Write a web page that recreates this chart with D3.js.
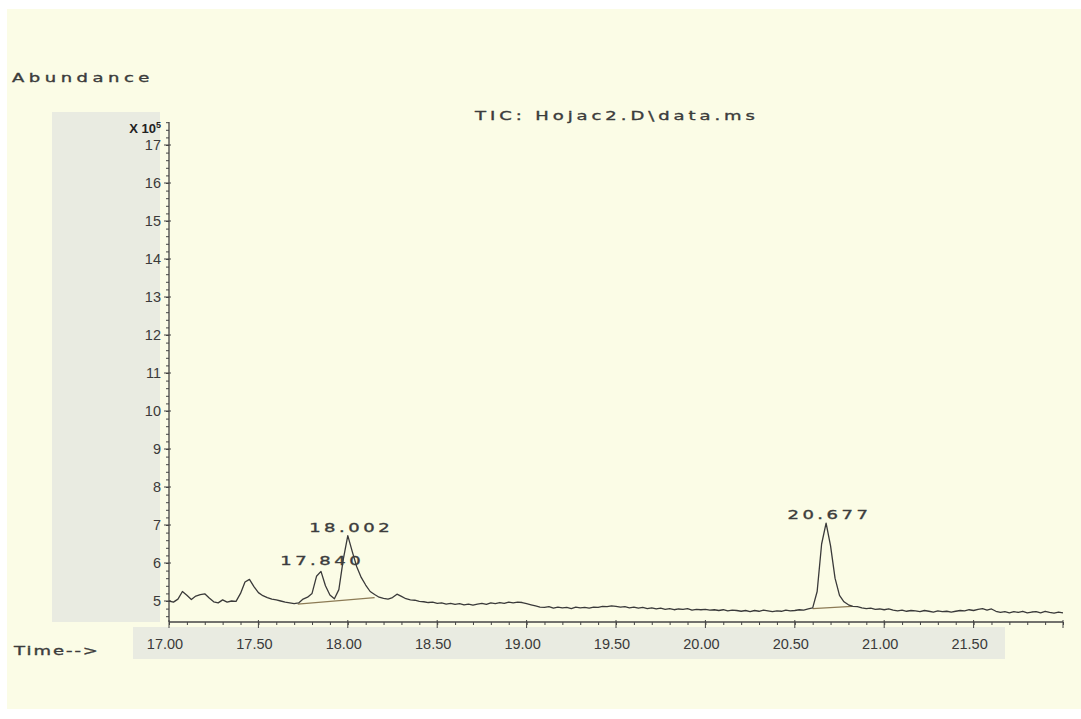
<!DOCTYPE html>
<html>
<head>
<meta charset="utf-8">
<script src="https://cdn.jsdelivr.net/npm/d3@7"></script>
<style>
  body { margin: 0; background: #fff; }
  svg { display: block; }
</style>
</head>
<body>
<svg id="chart" width="1081" height="719"></svg>
<script>
// scan grid (min) and TIC abundance in units of 10^5
var scanStart = 17.0, scanStep = 0.025;
var abundance = [
  5.00, 4.97, 5.05, 5.25, 5.15, 5.04, 5.13, 5.17,
  5.19, 5.08, 4.98, 4.95, 5.03, 4.97, 5.00, 4.99,
  5.20, 5.50, 5.57, 5.38, 5.22, 5.14, 5.09, 5.05,
  5.03, 5.00, 4.97, 4.95, 4.93, 4.95, 5.05, 5.10,
  5.20, 5.65, 5.78, 5.40, 5.16, 5.06, 5.30, 6.10,
  6.72, 6.30, 5.90, 5.62, 5.42, 5.25, 5.17, 5.10,
  5.07, 5.05, 5.09, 5.18, 5.12, 5.06, 5.03, 5.02,
  4.99, 4.98, 4.96, 4.97, 4.94, 4.95, 4.92, 4.94,
  4.91, 4.93, 4.90, 4.92, 4.89, 4.92, 4.94, 4.91,
  4.95, 4.93, 4.96, 4.94, 4.97, 4.95, 4.97, 4.96,
  4.93, 4.90, 4.87, 4.84, 4.83, 4.85, 4.81, 4.84,
  4.82, 4.83, 4.80, 4.84, 4.82, 4.83, 4.81, 4.84,
  4.83, 4.86, 4.85, 4.87, 4.86, 4.84, 4.85, 4.82,
  4.84, 4.81, 4.83, 4.80, 4.82, 4.79, 4.81, 4.78,
  4.80, 4.77, 4.79, 4.78, 4.80, 4.76, 4.78, 4.77,
  4.78, 4.76, 4.77, 4.75, 4.77, 4.74, 4.76, 4.75,
  4.73, 4.75, 4.72, 4.75, 4.73, 4.76, 4.74, 4.72,
  4.74, 4.73, 4.76, 4.74, 4.75, 4.77, 4.76, 4.79,
  4.82, 5.25, 6.50, 7.05, 6.45, 5.60, 5.15, 4.98,
  4.90, 4.86, 4.85, 4.82, 4.80, 4.81, 4.78, 4.79,
  4.77, 4.79, 4.76, 4.74, 4.76, 4.73, 4.75, 4.74,
  4.72, 4.75, 4.73, 4.71, 4.74, 4.72, 4.73, 4.71,
  4.73, 4.75, 4.74, 4.77, 4.75, 4.78, 4.80, 4.76,
  4.79, 4.73, 4.70, 4.72, 4.69, 4.72, 4.70, 4.73,
  4.69, 4.71, 4.72, 4.69, 4.73, 4.70, 4.68, 4.71,
  4.69
];

// labelled peaks
var peakTimes = [17.840, 18.002, 20.677];
var peakHeights = [5.84, 6.72, 7.05];

// integration baselines [t0, v0, t1, v1]
var baselines = [
  [17.72, 4.92, 18.15, 5.09],
  [20.60, 4.80, 20.82, 4.86]
];

var yTicks = [5, 6, 7, 8, 9, 10, 11, 12, 13, 14, 15, 16, 17];
var xTicks = [17.0, 17.5, 18.0, 18.5, 19.0, 19.5, 20.0, 20.5, 21.0, 21.5];

var svg = d3.select("#chart");

// page background + grey label panels
svg.append("rect").attr("x", 7).attr("y", 9).attr("width", 1074).attr("height", 700)
  .attr("fill", "#fbfce6");
svg.append("rect").attr("x", 52).attr("y", 112).attr("width", 108).attr("height", 510)
  .attr("fill", "#e9ebe1");
svg.append("rect").attr("x", 133).attr("y", 627).attr("width", 872).attr("height", 32)
  .attr("fill", "#e9ebe1");

var x = d3.scaleLinear().domain([17, 22]).range([169, 1063]);
var y = d3.scaleLinear().domain([5, 17]).range([601, 145]);

var axisColor = "#444";
var labelFont = "Liberation Sans, Arial, sans-serif";

// y axis
var yAxis = d3.axisLeft(y)
  .tickValues(d3.range(4.6, 17.7, 0.2))
  .tickSize(3)
  .tickFormat("");
var gy = svg.append("g").attr("transform", "translate(169,0)").call(yAxis);
gy.select(".domain").remove();
gy.selectAll("line").attr("stroke", axisColor);
gy.append("line").attr("x1", 0).attr("x2", 0).attr("y1", 122).attr("y2", 622)
  .attr("stroke", axisColor).attr("stroke-width", 1.3);
gy.selectAll(".major").data(yTicks).enter().append("line")
  .attr("x1", -5).attr("x2", 2)
  .attr("y1", function(d) { return y(d); }).attr("y2", function(d) { return y(d); })
  .attr("stroke", axisColor);

svg.selectAll(".ylab").data(yTicks).enter().append("text")
  .attr("x", 161)
  .attr("y", function(d) { return y(d) + 5; })
  .attr("text-anchor", "end")
  .attr("font-family", labelFont)
  .attr("font-size", 14.5)
  .attr("fill", "#3a3a3a")
  .text(function(d) { return d; });

var xlab = svg.append("text").attr("x", 161).attr("y", 133).attr("text-anchor", "end")
  .attr("font-family", labelFont).attr("font-size", 13)
  .attr("font-weight", "bold").attr("fill", "#222");
xlab.append("tspan").text("X 10");
xlab.append("tspan").attr("dy", -5).attr("font-size", 9).text("5");

// x axis
var xAxis = d3.axisBottom(x)
  .tickValues(d3.range(17, 22.01, 0.1))
  .tickSize(3)
  .tickFormat("");
var gx = svg.append("g").attr("transform", "translate(0,622)").call(xAxis);
gx.select(".domain").remove();
gx.selectAll("line").attr("stroke", axisColor);
gx.append("line").attr("x1", 169).attr("x2", 1063).attr("y1", 0).attr("y2", 0)
  .attr("stroke", axisColor).attr("stroke-width", 1.3);
gx.selectAll(".major").data(xTicks.concat([22])).enter().append("line")
  .attr("x1", function(d) { return x(d); }).attr("x2", function(d) { return x(d); })
  .attr("y1", -2).attr("y2", 6)
  .attr("stroke", axisColor);

svg.selectAll(".xlab").data(xTicks).enter().append("text")
  .attr("x", function(d) { return x(d) - 4; })
  .attr("y", 649)
  .attr("text-anchor", "middle")
  .attr("font-family", labelFont)
  .attr("font-size", 14.5)
  .attr("fill", "#3a3a3a")
  .text(function(d) { return d3.format(".2f")(d); });

// wide, letter-spaced instrument text (stretched glyphs, fitted to a width)
function spaced(tx, ty, str, width, centered) {
  var sx = 1.5;
  var g = svg.append("g");
  var t = g.append("text").attr("x", 0).attr("y", 0)
    .attr("font-family", "DejaVu Sans, sans-serif")
    .attr("font-size", 12)
    .attr("fill", "#3c3c3c")
    .attr("stroke", "#3c3c3c")
    .attr("stroke-width", 0.35)
    .text(str);
  var w0 = t.node().getComputedTextLength();
  var sp = (width / sx - w0) / str.length;
  t.attr("letter-spacing", sp);
  var left = centered ? tx - width / 2 : tx;
  g.attr("transform", "translate(" + left + "," + ty + ") scale(" + sx + ",1)");
  return t;
}
spaced(12, 82, "Abundance", 142);
spaced(475, 120, "TIC: Hojac2.D\\data.ms", 284);
spaced(14, 655, "Time-->", 86);

// integration baselines
svg.selectAll(".base").data(baselines).enter().append("line")
  .attr("x1", function(d) { return x(d[0]); }).attr("y1", function(d) { return y(d[1]); })
  .attr("x2", function(d) { return x(d[2]); }).attr("y2", function(d) { return y(d[3]); })
  .attr("stroke", "#8c7b55").attr("stroke-width", 1.2);

// chromatogram trace
var line = d3.line()
  .x(function(d, i) { return x(scanStart + i * scanStep); })
  .y(function(d) { return y(d); });

svg.append("path")
  .datum(abundance)
  .attr("d", line)
  .attr("fill", "none")
  .attr("stroke", "#3a3a3a")
  .attr("stroke-width", 1.3)
  .attr("stroke-linejoin", "round");

// peak labels
peakTimes.forEach(function(t, i) {
  spaced(x(t) + 3, y(peakHeights[i]) - 4, d3.format(".3f")(t), 84, true);
});
</script>
</body>
</html>
